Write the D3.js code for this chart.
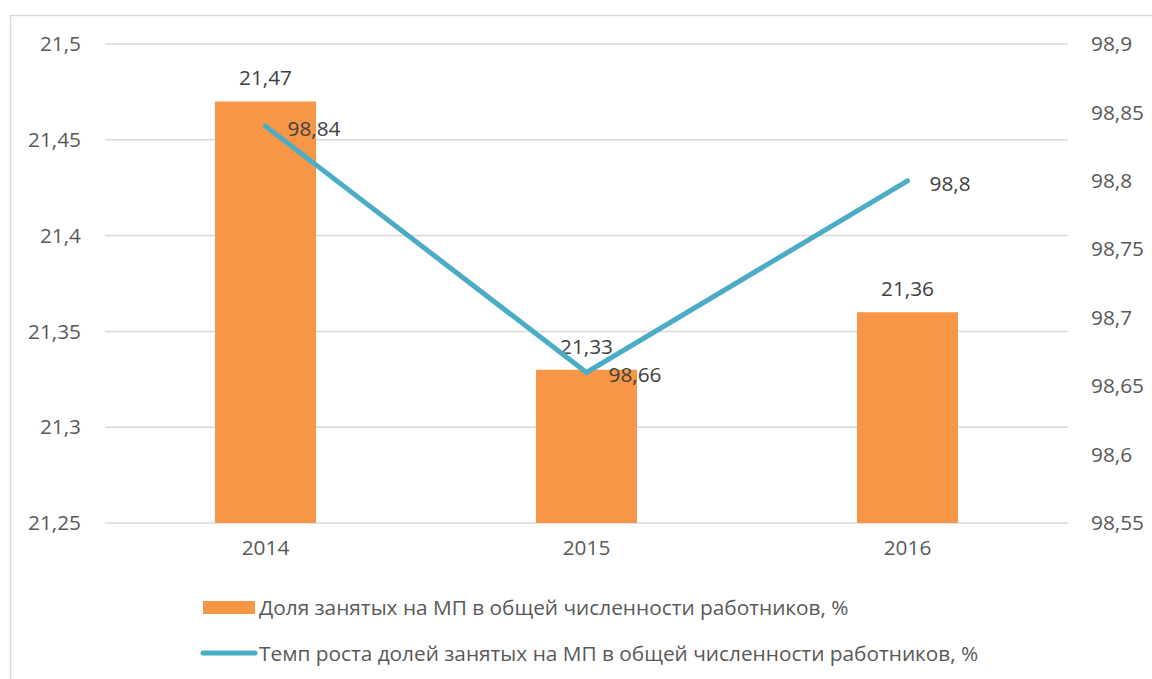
<!doctype html>
<html>
<head>
<meta charset="utf-8"/>
<title>Доля занятых на МП</title>
<script src="https://d3js.org/d3.v7.min.js"></script>
<style>
body { margin:0; background:#fff; }
text { font-family:"Open Sans", "Noto Sans", sans-serif; fill:#404040; }
</style>
</head>
<body>
<script>
// данные
var years = ["2014", "2015", "2016"];
var dolya = [21.47, 21.33, 21.36];
var temp = [98.84, 98.66, 98.8];
var leftTicks = [21.25, 21.3, 21.35, 21.4, 21.45, 21.5];
var rightTicks = [98.55, 98.6, 98.65, 98.7, 98.75, 98.8, 98.85, 98.9];
var legendNames = ["Доля занятых на МП в общей численности работников, %",
                   "Темп роста долей занятых на МП в общей численности работников, %"];

var W = 1152, H = 679;
var pLeft = 105, pRight = 1068, pTop = 44, pBottom = 523;
var fs = "20.8px";
var fmt = function(v){ return String(v).replace(".", ","); };

var svg = d3.select("body").append("svg")
    .attr("width", W).attr("height", H);

// рамка
svg.append("rect")
    .attr("x", 10.5).attr("y", 15.5)
    .attr("width", W + 20).attr("height", H + 20)
    .attr("fill", "none").attr("stroke", "#d9d9d9").attr("stroke-width", 1.5);

var x = d3.scaleBand().domain(years).range([pLeft, pRight]);
var yL = d3.scaleLinear().domain([21.25, 21.5]).range([pBottom, pTop]);
var yR = d3.scaleLinear().domain([98.55, 98.9]).range([pBottom, pTop]);

// сетка
svg.selectAll(".grid").data(leftTicks).enter().append("line")
    .attr("x1", pLeft).attr("x2", pRight)
    .attr("y1", function(d){ return yL(d); })
    .attr("y2", function(d){ return yL(d); })
    .attr("stroke", "#d9d9d9").attr("stroke-width", 1.5);

// левая ось
var axL = svg.append("g").attr("transform", "translate(" + pLeft + ",0)")
    .call(d3.axisLeft(yL).tickValues(leftTicks).tickFormat(fmt).tickSize(0).tickPadding(24));
axL.select(".domain").remove();
axL.selectAll("text").style("font-size", fs).style("fill", "#595959");

// правая ось
var axR = svg.append("g").attr("transform", "translate(" + pRight + ",0)")
    .call(d3.axisRight(yR).tickValues(rightTicks).tickFormat(fmt).tickSize(0).tickPadding(23));
axR.select(".domain").remove();
axR.selectAll("text").style("font-size", fs).style("fill", "#595959");

// ось X
var axX = svg.append("g").attr("transform", "translate(0," + pBottom + ")")
    .call(d3.axisBottom(x).tickSize(0).tickPadding(17));
axX.select(".domain").remove();
axX.selectAll("text").style("font-size", fs).style("fill", "#595959");

[axL, axR, axX].forEach(function(a){ a.attr("font-family", null).attr("font-size", null); });

// столбцы
var bw = 101;
svg.selectAll(".bar").data(dolya).enter().append("rect")
    .attr("x", function(d,i){ return x(years[i]) + x.bandwidth()/2 - bw/2; })
    .attr("y", function(d){ return yL(d); })
    .attr("width", bw)
    .attr("height", function(d){ return pBottom - yL(d); })
    .attr("fill", "#f79646");

svg.selectAll(".barlab").data(dolya).enter().append("text")
    .attr("x", function(d,i){ return x(years[i]) + x.bandwidth()/2; })
    .attr("y", function(d){ return yL(d) - 24; })
    .attr("text-anchor", "middle").attr("dominant-baseline", "central")
    .style("font-size", fs)
    .text(fmt);

// линия
var line = d3.line()
    .x(function(d,i){ return x(years[i]) + x.bandwidth()/2; })
    .y(function(d){ return yR(d); });
svg.append("path").datum(temp)
    .attr("d", line)
    .attr("fill", "none").attr("stroke", "#4bacc6")
    .attr("stroke-width", 5).attr("stroke-linecap", "round").attr("stroke-linejoin", "miter");

svg.selectAll(".linelab").data(temp).enter().append("text")
    .attr("x", function(d,i){ return x(years[i]) + x.bandwidth()/2 + 22; })
    .attr("y", function(d){ return yR(d) + 2; })
    .attr("dominant-baseline", "central")
    .style("font-size", fs)
    .text(fmt);

// легенда
svg.append("rect").attr("x", 203).attr("y", 601).attr("width", 52).attr("height", 13).attr("fill", "#f79646");
svg.append("line").attr("x1", 203).attr("x2", 255).attr("y1", 653).attr("y2", 653)
    .attr("stroke", "#4bacc6").attr("stroke-width", 5).attr("stroke-linecap", "round");
svg.selectAll(".leg").data(legendNames).enter().append("text")
    .attr("x", 259)
    .attr("y", function(d,i){ return 607 + i*46; })
    .attr("dominant-baseline", "central")
    .style("font-size", fs).style("fill", "#595959")
    .text(function(d){ return d; });
</script>
</body>
</html>
